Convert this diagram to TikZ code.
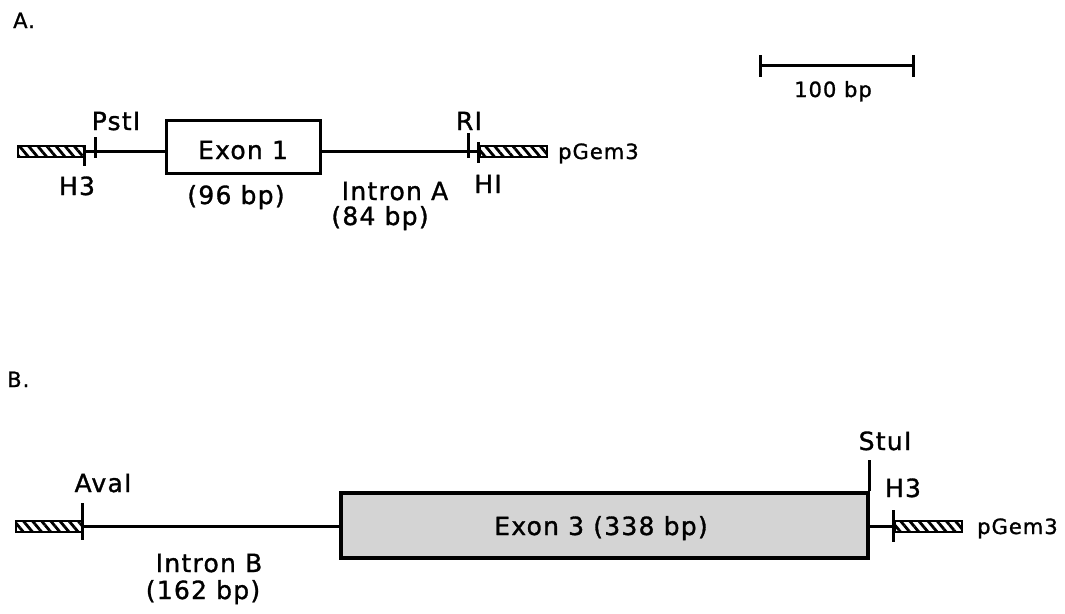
\documentclass[tikz,border=0pt]{standalone}
\usepackage{fontspec}
\setmainfont{DejaVu Sans}[LetterSpace=5,FakeBold=1.2]
\usetikzlibrary{patterns.meta}
\begin{document}
\begin{tikzpicture}[x=1pt,y=-1pt,
  lbl/.style={font=\fontsize{25}{30}\selectfont, inner sep=0pt, anchor=base},
  sml/.style={font=\fontsize{21}{25}\selectfont, inner sep=0pt, anchor=base},
  dna/.style={line width=3pt},
  tickmark/.style={line width=3pt},
  vec/.style={draw, line width=2pt, inner sep=0pt, minimum width=66pt, minimum height=11pt,
     pattern={Lines[angle=-50,distance=7pt,line width=2.8pt]}},
  exon/.style={draw, line width=3.5pt, inner sep=0pt}]
\path[use as bounding box] (0,0) rectangle (1065,613);

% ---------- A ----------
\node[sml, anchor=base west] (labA) at (13,28) {A.};
\node[vec] (pA1) at (50.5,151) {};
\node[vec, minimum width=67pt] (pA2) at (513,151) {};
\node[exon, minimum width=154pt, minimum height=53pt] (ex1) at (243.5,147) {};
\node[lbl] (ex1t) at (243,159) {Exon 1};
\draw[dna] (pA1.east) -- (pA1.east -| ex1.west);
\draw[dna] (ex1.east |- pA2.west) -- (pA2.west);
% sites
\draw[tickmark] (84,145) -- (84,166);
\draw[tickmark] (95,137) -- (95,158);
\draw[tickmark] (468,133) -- (468,158);
\draw[tickmark] (478,142) -- (478,163);
\node[lbl] (pst) at (116,130) {PstI};
\node[lbl] (h3a) at (77,195) {H3};
\node[lbl] (ri) at (469,130) {RI};
\node[lbl] (hi) at (488,193) {HI};
\node[lbl] (ex1s) at (236,204) {(96 bp)};
\node[lbl] (inA) at (395,200) {Intron A};
\node[lbl] (inAs) at (380,225) {(84 bp)};
\node[sml, anchor=base west] (pgA) at (558,159) {pGem3};

% scale bar
\coordinate (sb1) at (760,65);
\coordinate (sb2) at (913,65);
\draw[tickmark] (sb1) -- (sb2);
\draw[tickmark] (760,55) -- (760,77);
\draw[tickmark] (913,55) -- (913,77);
\node[sml] (sbl) at (833,97) {100 bp};

% ---------- B ----------
\node[sml, anchor=base west] (labB) at (7,387) {B.};
\node[vec] (pB1) at (49,526) {};
\node[vec, minimum width=67pt] (pB2) at (928.5,526) {};
\node[exon, minimum width=527pt, minimum height=65pt, fill=black!17] (ex3) at (604.5,525.5) {};
\node[lbl] (ex3t) at (601,535) {Exon 3 (338 bp)};
\draw[dna] (pB1.east) -- (pB1.east -| ex3.west);
\draw[dna] (ex3.east |- pB2.west) -- (pB2.west);
\draw[tickmark] (82,503) -- (82,540);
\draw[tickmark] (ex3.north east) -- ++(0,-31);
\draw[tickmark] (893,510) -- (893,542);
\node[lbl] (ava) at (103,492) {AvaI};
\node[lbl] (stu) at (885,450) {StuI};
\node[lbl] (h3b) at (903,497) {H3};
\node[sml, anchor=base west] (pgB) at (977,534) {pGem3};
\node[lbl] (inB) at (209,572) {Intron B};
\node[lbl] (inBs) at (203,599) {(162 bp)};
\end{tikzpicture}
\end{document}
